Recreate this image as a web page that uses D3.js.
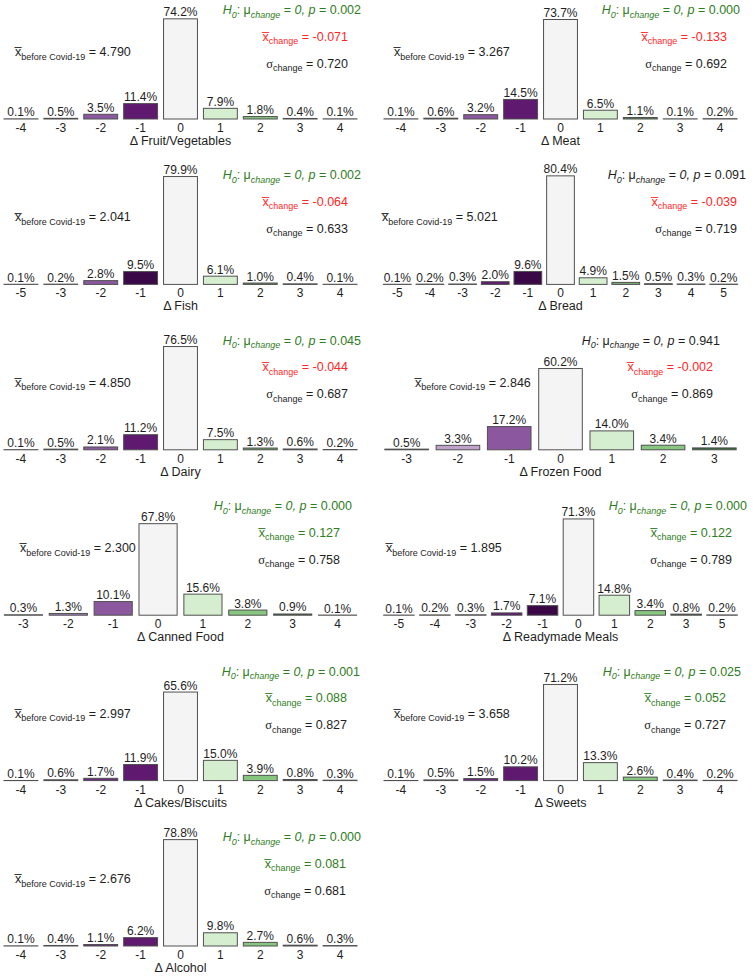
<!DOCTYPE html>
<html>
<head>
<meta charset="utf-8">
<title>Change in food consumption</title>
<script src="https://cdnjs.cloudflare.com/ajax/libs/d3/7.8.5/d3.min.js"></script>
<style>
  body { margin: 0; background: #fff; }
  svg text { font-family: "Liberation Sans", Arial, sans-serif; }
</style>
</head>
<body>
<script>
// panel names (x axis titles)
var foodNames = ["Fruit/Vegetables", "Meat", "Fish", "Bread", "Dairy", "Frozen Food",
                 "Canned Food", "Readymade Meals", "Cakes/Biscuits", "Sweets", "Alcohol"];

// change categories and share of respondents (%) per panel
var fruitCats = [-4, -3, -2, -1, 0, 1, 2, 3, 4];
var fruitPct  = [0.1, 0.5, 3.5, 11.4, 74.2, 7.9, 1.8, 0.4, 0.1];
var meatCats  = [-4, -3, -2, -1, 0, 1, 2, 3, 4];
var meatPct   = [0.1, 0.6, 3.2, 14.5, 73.7, 6.5, 1.1, 0.1, 0.2];
var fishCats  = [-5, -3, -2, -1, 0, 1, 2, 3, 4];
var fishPct   = [0.1, 0.2, 2.8, 9.5, 79.9, 6.1, 1.0, 0.4, 0.1];
var breadCats = [-5, -4, -3, -2, -1, 0, 1, 2, 3, 4, 5];
var breadPct  = [0.1, 0.2, 0.3, 2.0, 9.6, 80.4, 4.9, 1.5, 0.5, 0.3, 0.2];
var dairyCats = [-4, -3, -2, -1, 0, 1, 2, 3, 4];
var dairyPct  = [0.1, 0.5, 2.1, 11.2, 76.5, 7.5, 1.3, 0.6, 0.2];
var frozenCats = [-3, -2, -1, 0, 1, 2, 3];
var frozenPct  = [0.5, 3.3, 17.2, 60.2, 14.0, 3.4, 1.4];
var cannedCats = [-3, -2, -1, 0, 1, 2, 3, 4];
var cannedPct  = [0.3, 1.3, 10.1, 67.8, 15.6, 3.8, 0.9, 0.1];
var readyCats = [-5, -4, -3, -2, -1, 0, 1, 2, 3, 5];
var readyPct  = [0.1, 0.2, 0.3, 1.7, 7.1, 71.3, 14.8, 3.4, 0.8, 0.2];
var cakesCats = [-4, -3, -2, -1, 0, 1, 2, 3, 4];
var cakesPct  = [0.1, 0.6, 1.7, 11.9, 65.6, 15.0, 3.9, 0.8, 0.3];
var sweetsCats = [-4, -3, -2, -1, 0, 1, 2, 3, 4];
var sweetsPct  = [0.1, 0.5, 1.5, 10.2, 71.2, 13.3, 2.6, 0.4, 0.2];
var alcoholCats = [-4, -3, -2, -1, 0, 1, 2, 3, 4];
var alcoholPct  = [0.1, 0.4, 1.1, 6.2, 78.8, 9.8, 2.7, 0.6, 0.3];

// summary statistics per panel
var meanBefore = [4.790, 3.267, 2.041, 5.021, 4.850, 2.846, 2.300, 1.895, 2.997, 3.658, 2.676];
var meanChange = [-0.071, -0.133, -0.064, -0.039, -0.044, -0.002, 0.127, 0.122, 0.088, 0.052, 0.081];
var sdChange   = [0.720, 0.692, 0.633, 0.719, 0.687, 0.869, 0.758, 0.789, 0.827, 0.727, 0.681];
var pValue     = [0.002, 0.000, 0.002, 0.091, 0.045, 0.941, 0.000, 0.000, 0.001, 0.025, 0.000];

var allCats = [fruitCats, meatCats, fishCats, breadCats, dairyCats, frozenCats,
               cannedCats, readyCats, cakesCats, sweetsCats, alcoholCats];
var allPct  = [fruitPct, meatPct, fishPct, breadPct, dairyPct, frozenPct,
               cannedPct, readyPct, cakesPct, sweetsPct, alcoholPct];

// ---- styles ----
var G = "#4a4a4a", W = "#f4f4f4", LG = "#d5eecf", MG = "#86c67f", DG = "#2f6b36",
    LP = "#c0a2cd", MP = "#8b579f", DP = "#5f196f", VP = "#3a0847";
var barColours = [
  [G, G, MP, DP, W, LG, MG, DG, G],
  [G, G, MP, DP, W, LG, "#4f8a4c", G, G],
  [G, G, MP, VP, W, LG, "#5d8f5a", G, G],
  [G, G, G, DP, VP, W, LG, "#78b272", G, G, G],
  [G, G, MP, DP, W, LG, "#6aa465", DG, G],
  [G, LP, MP, W, LG, MG, DG],
  [G, "#a07cb5", MP, W, LG, MG, DG, G],
  [G, G, G, DP, VP, W, LG, MG, DG, G],
  [G, G, "#6b2a80", DP, W, LG, MG, DG, G],
  [G, G, "#6b2a80", DP, W, LG, MG, G, G],
  [G, G, "#6b2a80", DP, W, LG, MG, DG, G]
];
var green = "#2f7d22", red = "#ff2626", ink = "#1e1e1e";

// text anchors per panel (relative to the panel's left edge): H0 right, xbar/sigma right, left text start
var h0Right   = [361, 360, 361, 366, 361, 340, 352, 367, 360, 361, 361];
var statRight = [348, 347, 348, 357, 348, 333, 340, 352, 347, 346, 346];
var leftStart = [15, 14, 15, 2, 15, 35, 20, 6, 15, 14, 15];

var width = 755, height = 980;
var svg = d3.select("body").append("svg")
  .attr("width", width)
  .attr("height", height);

// add text made of pieces: [text, {sub, italic, font}]
function richText(g, x, y, anchor, colour, pieces) {
  var t = g.append("text")
    .attr("x", x).attr("y", y)
    .attr("text-anchor", anchor)
    .style("font-size", "12.5px")
    .style("fill", colour);
  var shift = 0;
  pieces.forEach(function(p) {
    var o = p[1] || {};
    var want = o.sub ? 3.5 : 0;
    var s = t.append("tspan").text(p[0]).attr("dy", want - shift);
    shift = want;
    if (o.sub) s.style("font-size", "9px");
    if (o.italic) s.style("font-style", "italic");
    if (o.serif) s.style("font-family", "'Liberation Serif', 'DejaVu Serif', serif");
  });
  return t;
}

foodNames.forEach(function(name, i) {
  var col = i % 2, row = Math.floor(i / 2);
  var x0 = col * 380;
  var base = 119 + row * 165.4;
  var cats = allCats[i], pct = allPct[i];
  var data = cats.map(function(c, k) { return {cat: c, pct: pct[k], colour: barColours[i][k]}; });

  var x = d3.scaleBand()
    .domain(cats)
    .range([x0 + 1, x0 + 360])
    .paddingInner(0.15)
    .paddingOuter(0.075);

  var y = d3.scaleLinear()
    .domain([0, 100])
    .range([base, base - 135]);

  var g = svg.append("g").attr("class", "panel");

  // bars
  g.selectAll("rect.bar").data(data).enter().append("rect")
    .attr("class", "bar")
    .attr("x", function(d) { return x(d.cat); })
    .attr("width", x.bandwidth())
    .attr("y", function(d) { return y(d.pct); })
    .attr("height", function(d) { return base - y(d.pct); })
    .style("fill", function(d) { return d.colour; })
    .style("stroke", "#505050")
    .style("stroke-width", 1);

  // value labels
  g.selectAll("text.val").data(data).enter().append("text")
    .attr("class", "val")
    .attr("x", function(d) { return x(d.cat) + x.bandwidth() / 2; })
    .attr("y", function(d) { return y(d.pct) - 2.5; })
    .attr("text-anchor", "middle")
    .style("font-size", "12px")
    .style("fill", ink)
    .text(function(d) { return d.pct.toFixed(1) + "%"; });

  // x axis (labels only)
  var axis = g.append("g")
    .attr("transform", "translate(0," + base + ")")
    .call(d3.axisBottom(x).tickSize(0).tickPadding(4.5));
  axis.select(".domain").remove();
  axis.selectAll("text")
    .style("font-size", "12px")
    .style("font-family", "'Liberation Sans', Arial, sans-serif")
    .style("fill", ink);

  // axis title
  g.append("text")
    .attr("x", x0 + 180.5)
    .attr("y", base + 26)
    .attr("text-anchor", "middle")
    .style("font-size", "12.5px")
    .style("fill", ink)
    .text("\u0394 " + name);

  // hypothesis test line
  var pCol = pValue[i] < 0.05 ? green : ink;
  richText(g, x0 + h0Right[i], base - 105, "end", pCol, [
    ["H", {italic: true}], ["0", {sub: true, italic: true}], [": \u03bc"],
    ["change", {sub: true, italic: true}], [" = "], ["0, p", {italic: true}],
    [" = " + pValue[i].toFixed(3)]
  ]);

  // mean change
  var mCol = meanChange[i] < 0 ? red : green;
  richText(g, x0 + statRight[i], base - 78.5, "end", mCol, [
    ["x\u0305"], ["change", {sub: true}], [" = " + meanChange[i].toFixed(3)]
  ]);

  // standard deviation of change
  richText(g, x0 + statRight[i], base - 51.5, "end", ink, [
    ["\u03c3", {serif: true}], ["change", {sub: true}], [" = " + sdChange[i].toFixed(3)]
  ]);

  // mean before covid
  richText(g, x0 + leftStart[i], base - 63, "start", ink, [
    ["x\u0305"], ["before Covid-19", {sub: true}], [" = " + meanBefore[i].toFixed(3)]
  ]);
});
</script>
</body>
</html>
